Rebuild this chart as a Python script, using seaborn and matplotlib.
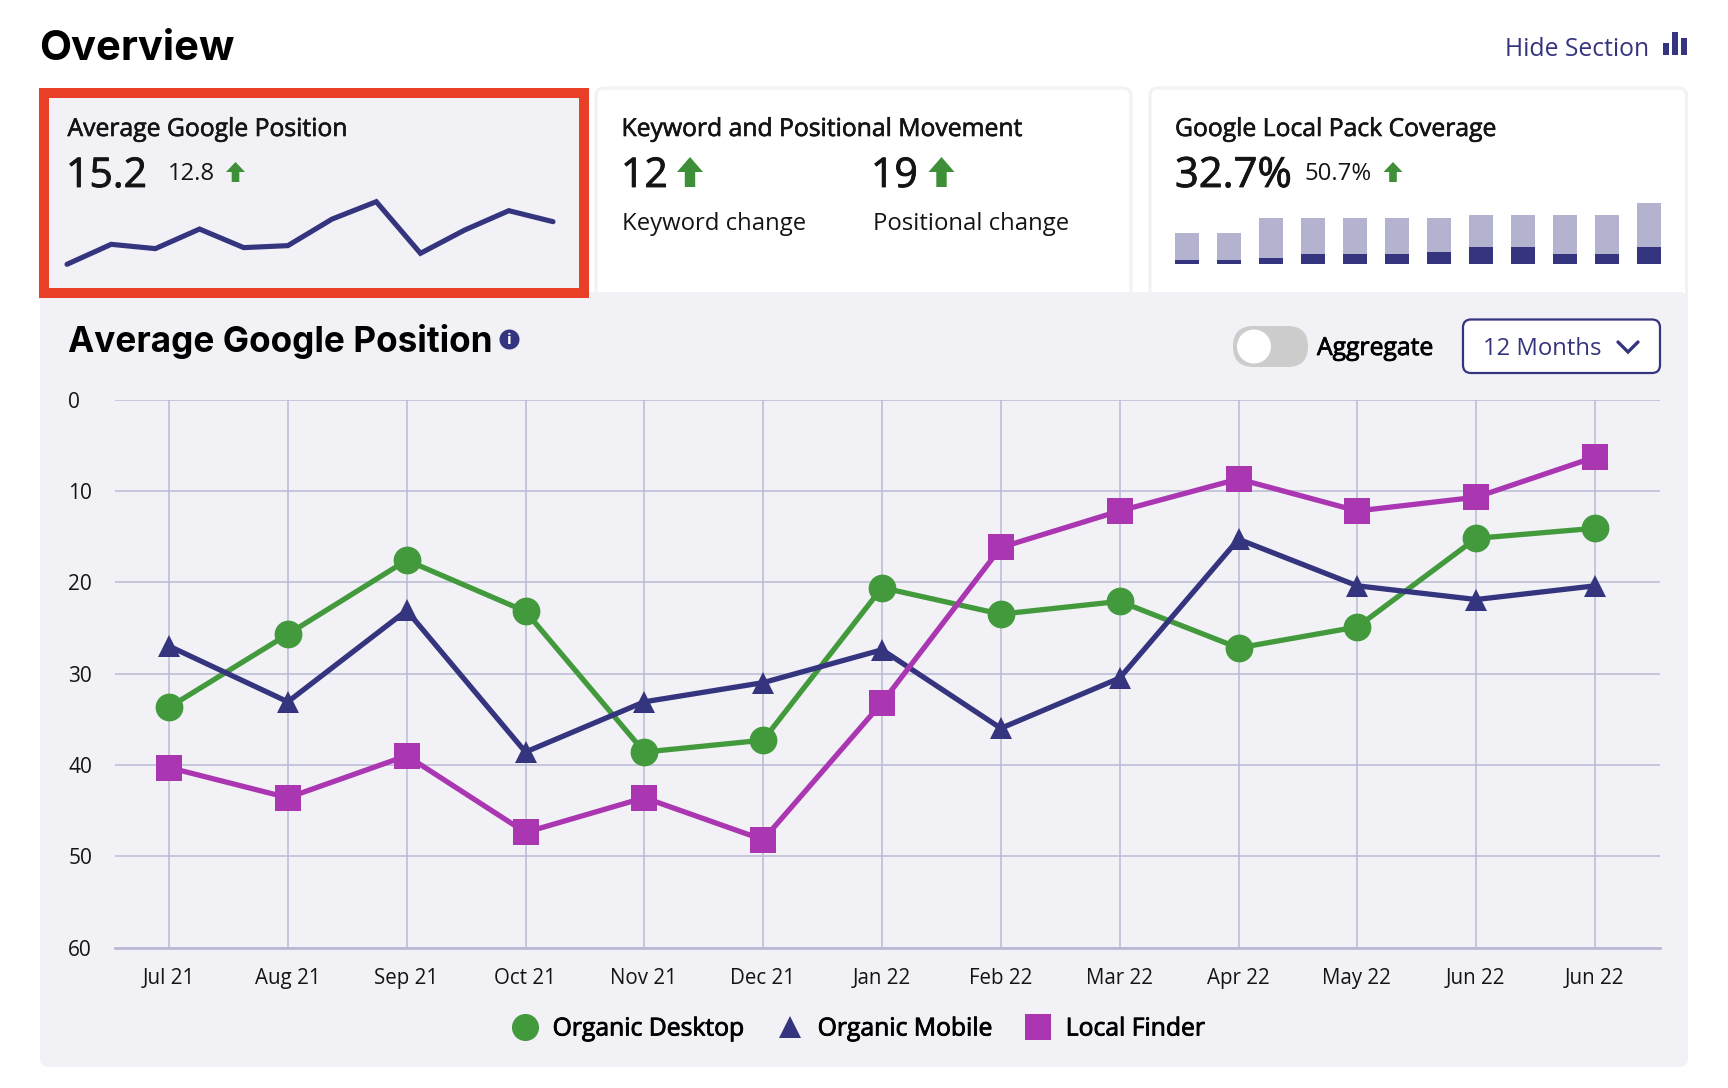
import matplotlib
matplotlib.use("Agg")
import matplotlib.pyplot as plt
import matplotlib.patheffects as pe
from matplotlib.lines import Line2D
from matplotlib.patches import FancyBboxPatch, Rectangle, Circle, Polygon
from matplotlib.transforms import ScaledTranslation
import pandas as pd
import seaborn as sns

months = ["Jul 21", "Aug 21", "Sep 21", "Oct 21", "Nov 21", "Dec 21", "Jan 22",
          "Feb 22", "Mar 22", "Apr 22", "May 22", "Jun 22", "Jun 22"]
organic_desktop = [33.7, 25.7, 17.6, 23.2, 38.6, 37.3, 20.6, 23.5, 22.1, 27.2, 24.9, 15.2, 14.1]
organic_mobile = [27.0, 33.1, 23.1, 38.6, 33.1, 31.0, 27.4, 36.0, 30.5, 15.3, 20.4, 21.9, 20.4]
local_finder = [40.3, 43.6, 39.0, 47.4, 43.6, 48.2, 33.2, 16.2, 12.2, 8.7, 12.2, 10.7, 6.3]
spark_values = [0, 20, 15.7, 35.3, 16.7, 18.7, 45.3, 62.7, 11, 34.3, 53.7, 42.7]
coverage_total = [10, 10, 15, 15, 15, 15, 15, 16, 16, 16, 16, 20]
coverage_dark = [1.3, 1.3, 2, 3.4, 3.4, 3.4, 4, 5.4, 5.4, 3.4, 3.4, 5.4]

W, H = 1728, 1088
NAVY = "#35357f"
GREEN = "#439a3d"
ARROW = "#3d8f38"
PURPLE = "#aa37b1"
PANEL = "#f1f1f6"
GRID = "#b9b9d6"
INK = "#141414"
BODY = "Open Sans"
HEAD = "Inter"

sns.set_theme(style="white")
plt.rcParams["font.family"] = [BODY, "DejaVu Sans"]
fig = plt.figure(figsize=(W / 100, H / 100), dpi=100, facecolor="white")


def px_axes(x0, y0, x1, y1, **kw):
    return fig.add_axes([x0 / W, 1 - y1 / H, (x1 - x0) / W, (y1 - y0) / H], **kw)


ui = px_axes(0, 0, W, H)
ui.set_xlim(0, W)
ui.set_ylim(H, 0)
ui.axis("off")
ui.set_zorder(0)


def rbox(x0, y0, x1, y1, r, fc, ec="none", lw=0, z=1):
    ui.add_patch(FancyBboxPatch((x0 + r, y0 + r), x1 - x0 - 2 * r, y1 - y0 - 2 * r,
                                boxstyle=f"round,pad={r},rounding_size={r}",
                                fc=fc, ec=ec, lw=lw, zorder=z))


def label(x, y, s, size, color=INK, weight="normal", family=BODY, stroke=0.0, z=5):
    t = ui.text(x, y, s, fontsize=size, color=color, weight=weight, family=family,
                ha="left", va="baseline", zorder=z)
    if stroke:
        t.set_path_effects([pe.withStroke(linewidth=stroke, foreground=color)])
    return t


def arrow(cx, y0, y1, w):
    head = (y1 - y0) * 0.5
    sw = w * 0.4
    ui.add_patch(Polygon([(cx, y0), (cx + w / 2, y0 + head), (cx + sw / 2, y0 + head),
                          (cx + sw / 2, y1), (cx - sw / 2, y1), (cx - sw / 2, y0 + head),
                          (cx - w / 2, y0 + head)], fc=ARROW, ec="none", zorder=5))


# cards and panel
rbox(596, 88, 1131, 310, 8, "white", PANEL, 2.2, z=1)
rbox(1150, 88, 1686.5, 310, 8, "white", PANEL, 2.2, z=1)
rbox(40, 292, 1688, 1067, 9, PANEL, z=2)
ui.add_patch(Rectangle((44, 93), 540, 200, fc=PANEL, ec="#ea3f27", lw=7.2, zorder=3))

# header
label(39.5, 59.5, "Overview", 30, "black", "bold", HEAD)
label(1505, 56, "Hide Section", 17.8, NAVY)
for x0, x1, top in [(1663, 1668.5, 43), (1672, 1678, 32), (1681, 1687, 38)]:
    ui.add_patch(Rectangle((x0, top), x1 - x0, 55 - top, fc=NAVY, ec="none", zorder=5))

# card 1
label(67.5, 136, "Average Google Position", 17.8, stroke=0.45)
label(66, 187, "15.2", 29.5, stroke=0.6)
label(167.5, 180, "12.8", 17.2)
arrow(235.5, 162, 182, 19)

# card 2
label(621.5, 136, "Keyword and Positional Movement", 17.8, stroke=0.45)
label(621, 187, "12", 29.5, stroke=0.6)
arrow(690, 157, 187, 26)
label(871, 187, "19", 29.5, stroke=0.6)
arrow(941.5, 157, 187, 26)
label(621.5, 230, "Keyword change", 17.2)
label(873, 230, "Positional change", 17.2)

# card 3
label(1175, 136, "Google Local Pack Coverage", 17.8, stroke=0.45)
label(1175, 187, "32.7%", 30, stroke=0.6)
label(1305, 180, "50.7%", 17.2)
arrow(1393, 162, 182, 19)

# sparkline
spark = px_axes(67, 201.7, 553, 264.3)
spark.patch.set_alpha(0)
spark.set_zorder(4)
sns.lineplot(x=list(range(len(spark_values))), y=spark_values, ax=spark, color=NAVY,
             linewidth=3.7, clip_on=False, solid_capstyle="round", solid_joinstyle="miter")
spark.set_xlim(0, len(spark_values) - 1)
spark.set_ylim(0, max(spark_values))
spark.axis("off")

# coverage bars
bars = px_axes(1175, 202.7, 1660.5, 264)
bars.patch.set_alpha(0)
bars.set_zorder(4)
idx = list(range(len(coverage_total)))
sns.barplot(x=idx, y=coverage_total, ax=bars, color="#b3b3d0", saturation=1, width=0.5625, linewidth=0)
sns.barplot(x=idx, y=coverage_dark, ax=bars, color=NAVY, saturation=1, width=0.5625, linewidth=0)
bars.set_xlim(-0.281, 11.281)
bars.set_ylim(0, max(coverage_total))
bars.axis("off")

# panel heading and controls
label(67.5, 352, "Average Google Position", 25.3, "black", "bold", HEAD)
ui.add_patch(Circle((509.5, 339.5), 10, fc=NAVY, ec="none", zorder=5))
ui.text(509.5, 340, "i", fontsize=11, color="white", weight="bold", ha="center", va="center",
        family=BODY, zorder=6)
rbox(1233, 326, 1308, 367, 20.5, "#cccccc", z=5)
ui.add_patch(Circle((1254, 346.5), 17, fc="white", ec="none", zorder=6))
label(1317, 355, "Aggregate", 17.8, "black", stroke=0.6)
rbox(1463, 319.5, 1660, 373, 8, "white", NAVY, 1.6, z=5)
label(1483, 355, "12 Months", 17.2, NAVY)
ui.add_line(Line2D([1618, 1628, 1638], [342, 352, 342], color=NAVY, lw=2.4, zorder=6,
                   solid_capstyle="round", solid_joinstyle="miter"))

# main chart
series = ["Organic Desktop", "Organic Mobile", "Local Finder"]
frame = pd.DataFrame({
    "pos": list(range(len(months))) * 3,
    "value": organic_desktop + organic_mobile + local_finder,
    "series": [s for s in series for _ in months],
})
colors = dict(zip(series, [GREEN, NAVY, PURPLE]))
shapes = dict(zip(series, ["o", "^", "s"]))

ax = px_axes(115, 399.5, 1660, 947.5)
ax.patch.set_alpha(0)
ax.set_zorder(4)
ax.set_axisbelow(True)
sns.lineplot(data=frame, x="pos", y="value", hue="series", style="series", hue_order=series,
             style_order=series, palette=colors, markers=shapes, dashes=False, linewidth=3.8,
             markersize=19, markeredgewidth=0, legend=False, ax=ax, clip_on=False)
for line, size in zip(ax.lines, [20, 16.5, 18.5]):
    line.set_markersize(size)
ax.set_xlim(-0.4545, 12.547)
ax.set_ylim(60, 0)
ax.set_xticks(range(len(months)))
ax.set_xticklabels(months)
ax.set_yticks(range(0, 61, 10))
ax.grid(True, color=GRID, lw=1.1)
ax.set_xlabel("")
ax.set_ylabel("")
for side in ["top", "left", "right"]:
    ax.spines[side].set_visible(False)
ax.spines["bottom"].set_color(GRID)
ax.spines["bottom"].set_linewidth(2)
ax.tick_params(axis="both", length=0, labelsize=15, labelcolor=INK)
ax.tick_params(axis="x", pad=15)
shift = ScaledTranslation(-0.5 / 100, 0, fig.dpi_scale_trans)
for t in ax.get_xticklabels():
    t.set_fontsize(14.8)
    t.set_transform(t.get_transform() + shift)
for t in ax.get_yticklabels():
    t.set_horizontalalignment("left")
    t.set_transform(t.get_transform() + ScaledTranslation(-42 / 100, 0, fig.dpi_scale_trans))

handles = [Line2D([], [], linestyle="none", marker=shapes[s], color=colors[s], markeredgewidth=0,
                  markersize={"o": 19.5, "^": 16.5, "s": 18.5}[shapes[s]]) for s in series]
leg = ax.legend(handles, series, loc="center left", bbox_to_anchor=(495.5 / W, 1 - 1029 / H),
                bbox_transform=fig.transFigure, ncols=3, frameon=False, fontsize=17.8,
                handletextpad=0.41, columnspacing=1.16, handlelength=1.4, borderpad=0)
for t in leg.get_texts():
    t.set_color("black")
    t.set_path_effects([pe.withStroke(linewidth=0.6, foreground="black")])

fig.savefig("out.png", dpi=100, facecolor="white")
